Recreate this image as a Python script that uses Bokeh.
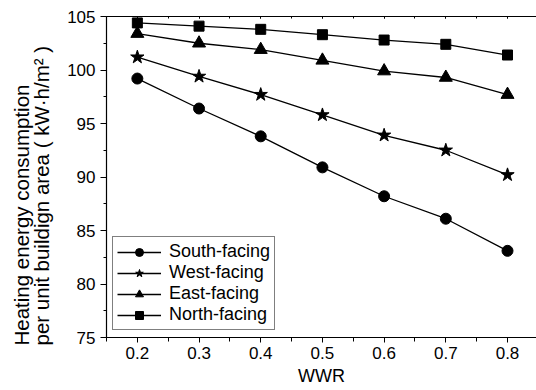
from bokeh.plotting import figure
from bokeh.models import (Range1d, SingleIntervalTicker, LinearAxis, Legend, LegendItem, Title)
from bokeh.embed import file_html
from bokeh.resources import INLINE

wwr = [0.2, 0.3, 0.4, 0.5, 0.6, 0.7, 0.8]
south = [99.2, 96.4, 93.8, 90.9, 88.2, 86.1, 83.1]
west = [101.2, 99.4, 97.7, 95.8, 93.9, 92.5, 90.2]
east = [103.4, 102.5, 101.9, 100.9, 99.9, 99.3, 97.7]
north = [104.4, 104.1, 103.8, 103.3, 102.8, 102.4, 101.4]
series_names = ["South-facing", "West-facing", "East-facing", "North-facing"]
x_label = "WWR"
y_label_1 = "Heating energy consumption"
y_label_2 = "per unit buildign area\u00a0( kW\u00b7h/m\u00b2 )"

FONT = "Liberation Sans"
NB = "\u00a0"

p = figure(width=536, height=390, output_backend="svg", toolbar_location=None,
           x_range=Range1d(0.15, 0.847), y_range=Range1d(75, 105),
           min_border_left=106, min_border_top=16, min_border_right=0, min_border_bottom=53)
p.background_fill_color = "white"
p.border_fill_color = "white"
p.outline_line_color = None
p.xgrid.visible = False
p.ygrid.visible = False

def style_axis(ax):
    ax.axis_line_color = "black"
    ax.axis_line_width = 1.2
    ax.major_tick_line_color = "black"
    ax.minor_tick_line_color = "black"
    ax.major_tick_in = 0
    ax.major_tick_out = 6
    ax.minor_tick_in = 0
    ax.minor_tick_out = 3
    ax.major_label_text_font = FONT
    ax.major_label_text_font_size = "17px"
    ax.major_label_text_color = "black"
    ax.axis_label_text_font = FONT
    ax.axis_label_text_font_style = "normal"
    ax.axis_label_text_color = "black"

p.xaxis.ticker = SingleIntervalTicker(interval=0.1, num_minor_ticks=2)
p.yaxis.ticker = SingleIntervalTicker(interval=5, num_minor_ticks=2)
style_axis(p.xaxis[0])
style_axis(p.yaxis[0])
p.xaxis.major_tick_out = 5
p.xaxis.minor_tick_out = 4
p.xaxis.axis_label = x_label
p.xaxis.axis_label_text_font_size = "18px"
p.xaxis.axis_label_standoff = 4
p.xaxis.major_label_standoff = 4
p.yaxis.major_label_standoff = 5

ytitle = Title(text=y_label_1 + NB * 5 + "\n" + y_label_2,
               align="left", offset=-8, standoff=18, vertical_align="top",
               text_font=FONT, text_font_size="20.5px", text_font_style="normal",
               text_color="black", text_line_height=0.9)
p.add_layout(ytitle, "left")

top = LinearAxis(ticker=SingleIntervalTicker(interval=0.1, num_minor_ticks=2))
top.axis_line_color = "black"
top.axis_line_width = 1.2
top.major_tick_in = 2
top.major_tick_out = 0
top.minor_tick_in = 2
top.minor_tick_out = 0
top.major_label_text_font_size = "0px"
top.major_label_text_color = None
top.major_label_standoff = 0
p.add_layout(top, "above")

lw = 1.3
r_s = p.line(wwr, south, line_color="black", line_width=lw)
m_s = p.scatter(wwr, south, marker="circle", size=11, fill_color="black", line_color="black")
r_w = p.line(wwr, west, line_color="black", line_width=lw)
m_w = p.scatter(wwr, west, marker="star", size=14, fill_color="black", line_color="black")
r_e = p.line(wwr, east, line_color="black", line_width=lw)
m_e = p.scatter(wwr, east, marker="triangle", size=13, fill_color="black", line_color="black")
r_n = p.line(wwr, north, line_color="black", line_width=lw)
m_n = p.scatter(wwr, north, marker="square", size=10, fill_color="black", line_color="black")

legend = Legend(items=[
    LegendItem(label=series_names[0], renderers=[r_s, m_s]),
    LegendItem(label=series_names[1], renderers=[r_w, m_w]),
    LegendItem(label=series_names[2], renderers=[r_e, m_e]),
    LegendItem(label=series_names[3], renderers=[r_n, m_n]),
], location=(6, 7))
legend.border_line_color = "black"
legend.border_line_width = 1
legend.background_fill_alpha = 1
legend.label_text_font = FONT
legend.label_text_font_size = "18px"
legend.label_text_color = "black"
legend.glyph_width = 44
legend.glyph_height = 20
legend.label_standoff = 8
legend.label_height = 20
legend.spacing = 0
legend.padding = 4
legend.margin = 0
p.add_layout(legend, "center")

open("out.html", "w").write(file_html(p, INLINE))
